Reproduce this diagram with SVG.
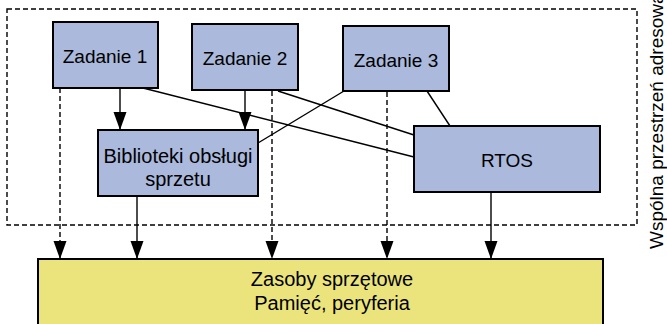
<svg xmlns="http://www.w3.org/2000/svg" width="667" height="324" viewBox="0 0 667 324">
<defs>
<style>
.box{fill:#aab9dc;stroke:#000;stroke-width:2}
.hw{fill:#ebe47c;stroke:#000;stroke-width:2}
.t{font-family:"Liberation Sans",Arial,sans-serif;font-size:19px;fill:#000;text-anchor:middle}
.t20{font-size:20px}
.ln{stroke:#000;stroke-width:1.4;fill:none}
.dl{stroke:#000;stroke-width:1.4;fill:none;stroke-dasharray:5 3}
.arr{marker-end:url(#ah)}
</style>
<marker id="ah" markerUnits="userSpaceOnUse" markerWidth="18" markerHeight="14" refX="18" refY="6.5" orient="auto" overflow="visible">
<path d="M0,0 L18,6.5 L0,13 Z" fill="#000"/>
</marker>
</defs>
<g id="shared-space">
<rect x="7" y="9" width="630" height="216" fill="none" stroke="#000" stroke-width="1.4" stroke-dasharray="5 3"/>
<text class="t" style="text-anchor:start" transform="translate(663,249) rotate(-90)">Wspólna przestrzeń adresowa</text>
</g>
<g id="hardware">
<rect class="hw" x="38" y="259" width="565" height="75"/>
<text class="t t20" x="332" y="286">Zasoby sprzętowe</text>
<text class="t t20" x="332" y="310">Pamięć, peryferia</text>
</g>
<g id="connectors">
<line class="dl arr" x1="60" y1="88" x2="60" y2="259"/>
<line class="dl arr" x1="272" y1="91" x2="272" y2="259"/>
<line class="dl arr" x1="387" y1="92" x2="387" y2="259"/>
<line class="ln arr" x1="120" y1="88" x2="120" y2="130"/>
<line class="ln arr" x1="245" y1="90" x2="245" y2="130"/>
<line class="ln arr" x1="137" y1="196" x2="137" y2="259"/>
<line class="ln arr" x1="491" y1="192" x2="491" y2="259"/>
<line class="ln" x1="143" y1="88" x2="414" y2="157"/>
<line class="ln" x1="278" y1="91" x2="414" y2="135"/>
<line class="ln" x1="344" y1="91" x2="258" y2="143"/>
<line class="ln" x1="427" y1="91" x2="450" y2="126"/>
</g>
<g id="zadanie1">
<rect class="box" x="53" y="22" width="105" height="66"/>
<text class="t" x="105" y="63">Zadanie 1</text>
</g>
<g id="zadanie2">
<rect class="box" x="192" y="24" width="106" height="66"/>
<text class="t" x="245" y="65">Zadanie 2</text>
</g>
<g id="zadanie3">
<rect class="box" x="343" y="26" width="106" height="65"/>
<text class="t" x="396" y="67">Zadanie 3</text>
</g>
<g id="biblioteki">
<rect class="box" x="98" y="130" width="160" height="66"/>
<text class="t t20" x="178" y="163">Biblioteki obsługi</text>
<text class="t t20" x="178" y="186">sprzetu</text>
</g>
<g id="rtos">
<rect class="box" x="414" y="126" width="186" height="66"/>
<text class="t" x="507" y="167">RTOS</text>
</g>
</svg>
